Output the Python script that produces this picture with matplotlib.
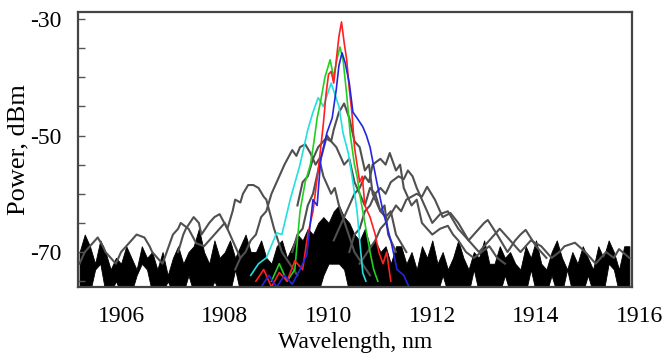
import numpy as np
import matplotlib.pyplot as plt
import matplotlib.transforms as mtransforms

plt.rcParams['font.family'] = 'Liberation Serif'
plt.rcParams['axes.unicode_minus'] = False

# colored laser lines (wavelength nm, power dBm)
red_wl = [1908.6, 1908.75, 1908.9, 1909.05, 1909.2, 1909.35, 1909.5, 1909.6, 1909.7, 1909.8,
          1909.9, 1909.95, 1910.0, 1910.05, 1910.1, 1910.15, 1910.2, 1910.25, 1910.3, 1910.35,
          1910.4, 1910.45, 1910.5, 1910.6, 1910.65, 1910.7, 1910.8, 1910.9, 1910.97, 1911.05,
          1911.12, 1911.2]
red_db = [-75, -73, -76, -73.5, -75, -71.5, -73, -67, -63, -56,
          -48, -43, -39.5, -39, -41, -37, -33, -30.5, -34, -37,
          -42, -46, -52, -58, -57, -62, -64, -67, -70, -72,
          -70, -75]

green_wl = [1908.9, 1909.05, 1909.2, 1909.35, 1909.45, 1909.55, 1909.65, 1909.72, 1909.78, 1909.85,
            1909.93, 1910.03, 1910.1, 1910.16, 1910.22, 1910.28, 1910.35, 1910.42, 1910.5, 1910.55,
            1910.6, 1910.7, 1910.8, 1910.87, 1910.95]
green_db = [-75, -72, -75, -73, -63, -58, -55, -51, -47, -44,
            -40, -37, -40, -37, -34.8, -37, -43, -50, -55, -57,
            -60, -65, -70, -73, -75]

blue_wl = [1908.7, 1908.85, 1909.0, 1909.15, 1909.3, 1909.45, 1909.58, 1909.7, 1909.78, 1909.85,
           1909.97, 1910.07, 1910.15, 1910.2, 1910.26, 1910.32, 1910.4, 1910.47, 1910.55, 1910.66,
           1910.73, 1910.8, 1910.93, 1911.05, 1911.2, 1911.32, 1911.45, 1911.55]
blue_db = [-76, -74, -76, -74, -75.5, -73, -70.5, -61, -62, -54,
           -49.5, -47, -42, -38, -35.8, -37.5, -41, -46, -47, -48.5,
           -50, -52, -58, -63, -68, -73, -74, -76]

cyan_wl = [1908.5, 1908.65, 1908.8, 1909.0, 1909.1, 1909.26, 1909.45, 1909.6, 1909.7, 1909.8,
           1909.9, 1910.05, 1910.2, 1910.28, 1910.38, 1910.47, 1910.55, 1910.6, 1910.66, 1910.72]
cyan_db = [-74, -72, -71, -66.7, -67, -61, -55, -49, -46, -43.5,
           -45, -41, -45, -49.6, -53, -58, -63, -68, -73.6, -75]

# black / grey traces
blk1_wl = [1905.2, 1905.3, 1905.4, 1905.55, 1905.65, 1905.7, 1905.9, 1906.0, 1906.1, 1906.2,
           1906.3, 1906.45, 1906.55, 1906.6, 1906.8, 1907.0, 1907.1, 1907.15, 1907.3, 1907.45,
           1907.6, 1907.7, 1907.8, 1908.0, 1908.15, 1908.3]
blk1_db = [-72, -70, -69, -67.5, -69, -70, -72, -70, -69, -68,
           -67, -67.5, -69, -70, -72, -67, -66, -65, -66, -68.5,
           -69, -68, -67, -65, -68, -71]

blk2_wl = [1907.1, 1907.2, 1907.25, 1907.4, 1907.5, 1907.55, 1907.7, 1907.8, 1907.9, 1908.05,
           1908.15, 1908.2, 1908.3, 1908.35, 1908.45, 1908.55, 1908.65, 1908.75, 1908.8, 1908.95,
           1909.1, 1909.25, 1909.4]
blk2_db = [-70, -67, -66, -64, -65, -67, -65, -64, -63.5, -66,
           -63, -61, -61.5, -60, -58.5, -58.5, -59, -60.5, -61, -66,
           -70, -72, -74]

blk3_wl = [1908.2, 1908.3, 1908.4, 1908.5, 1908.6, 1908.7, 1908.8, 1908.9, 1909.0, 1909.15,
           1909.3, 1909.38, 1909.45, 1909.55, 1909.65, 1909.75, 1909.82, 1909.9, 1910.05, 1910.12,
           1910.2, 1910.35, 1910.5, 1910.65, 1910.8]
blk3_db = [-73, -71, -70, -68, -67, -64, -63, -60, -58, -55,
           -52.5, -53.5, -52, -51.5, -53, -55, -54, -57, -60, -59,
           -62, -66, -70, -72, -74]

blk4_wl = [1909.3, 1909.4, 1909.5, 1909.6, 1909.7, 1909.85, 1909.97, 1910.05, 1910.1, 1910.2,
           1910.3, 1910.4, 1910.5, 1910.6, 1910.7, 1910.78, 1910.85, 1911.0, 1911.08, 1911.15,
           1911.3]
blk4_db = [-70, -67, -66, -62, -60, -54, -50, -51, -49, -46,
           -44.5, -47, -51, -52, -56, -55, -60, -63, -62, -67,
           -70]

blk5_wl = [1909.4, 1909.5, 1909.6, 1909.7, 1909.8, 1909.95, 1910.05, 1910.15, 1910.3, 1910.4,
           1910.5, 1910.6, 1910.7, 1910.8, 1910.9, 1911.0, 1911.1, 1911.2, 1911.3, 1911.5]
blk5_db = [-62, -58, -57, -54, -52, -50.5, -51, -52, -55, -54,
           -58, -60, -62, -59, -60, -63, -64, -63, -67, -70]

blk6_wl = [1910.1, 1910.2, 1910.3, 1910.4, 1910.5, 1910.6, 1910.7, 1910.78, 1910.85, 1911.0,
           1911.1, 1911.18, 1911.3, 1911.38, 1911.45, 1911.6, 1911.7, 1911.8, 1912.0, 1912.15,
           1912.3, 1912.4, 1912.5, 1912.65, 1912.8, 1912.95, 1913.1, 1913.25, 1913.4]
blk6_db = [-68, -66, -64, -62, -60, -59, -57, -58, -55, -54,
           -55, -53, -56, -55, -59, -62, -61, -65, -67, -66,
           -65.5, -67, -68, -70, -71, -70, -69, -71, -72]

blk7_wl = [1910.4, 1910.5, 1910.6, 1910.7, 1910.8, 1910.9, 1911.0, 1911.1, 1911.2, 1911.35,
           1911.45, 1911.53, 1911.62, 1911.7, 1911.85, 1912.0, 1912.15, 1912.3, 1912.4, 1912.5,
           1912.6, 1912.7, 1912.9, 1913.0, 1913.07, 1913.25, 1913.45, 1913.6, 1913.7, 1913.8,
           1914.0, 1914.2]
blk7_db = [-70, -67, -66, -63, -62, -60, -59, -60, -58, -57,
           -57.5, -56, -57, -59, -62, -65, -63.5, -63, -64.5, -66,
           -67, -68, -66, -65, -64.5, -67, -70, -68, -67, -66.2,
           -69, -71]

blk8_wl = [1910.6, 1910.9, 1911.0, 1911.1, 1911.3, 1911.4, 1911.5, 1911.7, 1911.8, 1911.9,
           1912.05, 1912.2, 1912.35, 1912.5, 1912.7, 1912.9, 1913.1, 1913.3, 1913.5, 1913.7,
           1913.9, 1914.1, 1914.3, 1914.45, 1914.55, 1914.75, 1914.95, 1915.15, 1915.35, 1915.5,
           1915.6, 1915.8]
blk8_db = [-72, -68, -66, -65, -62, -63, -61, -60, -60.5, -58.8,
           -61, -64, -63.3, -65, -68, -70, -68, -66, -68, -70,
           -68, -69, -71, -70, -69, -68.4, -70, -72, -70, -71,
           -69.5, -71]

# noise floor: top and bottom of the black mass, every 0.1 nm from 1905.2 nm
floor_hi = [-70, -67, -69, -72, -68, -70, -73, -71, -72, -69,
            -71, -73, -69, -71, -70, -73, -70, -74, -71, -69,
            -72, -70, -69, -66, -70, -72, -68, -71, -70, -68,
            -71, -69, -67, -70, -70, -68, -71, -72, -69, -68,
            -71, -69, -67, -68, -66, -67, -65, -64, -65, -63,
            -62, -64, -65, -67, -68, -66, -69, -68, -70, -69,
            -72, -69, -69, -72, -70, -73, -69, -71, -68, -72,
            -70, -73, -71, -68, -71, -73, -70, -71, -68, -72,
            -72, -69, -71, -70, -72, -73, -69, -71, -68, -72,
            -73, -70, -68, -71, -73, -70, -72, -69, -71, -73,
            -69, -71, -68, -70, -73, -69, -69]
floor_lo = [-77, -77, -77, -73, -72, -77, -77, -75, -77, -77,
            -77, -74, -72, -73, -77, -77, -77, -75, -77, -77,
            -77, -74, -77, -77, -77, -77, -75, -77, -77, -77,
            -73, -77, -77, -77, -77, -77, -77, -77, -77, -77,
            -77, -77, -77, -77, -77, -77, -77, -74, -72, -72,
            -72, -73, -77, -77, -77, -77, -77, -77, -77, -77,
            -77, -77, -77, -77, -77, -77, -77, -77, -77, -77,
            -74, -77, -77, -77, -77, -77, -73, -77, -77, -77,
            -77, -77, -74, -77, -77, -77, -77, -73, -77, -77,
            -77, -74, -77, -77, -73, -77, -77, -77, -74, -77,
            -77, -77, -72, -73, -77, -77, -77]
floor_wl = 1905.2 + 0.1 * np.arange(len(floor_hi))

fig = plt.figure(figsize=(6.66, 3.58), dpi=100)
ax = fig.add_axes([78 / 666, 71 / 358, 554 / 666, 275 / 358])

grey_traces = [(blk1_wl, blk1_db), (blk2_wl, blk2_db), (blk3_wl, blk3_db), (blk4_wl, blk4_db),
               (blk5_wl, blk5_db), (blk6_wl, blk6_db), (blk7_wl, blk7_db), (blk8_wl, blk8_db)]
for wl, db in grey_traces:
    ax.plot(wl, db, color='#505050', lw=1.5)

ax.fill_between(floor_wl, floor_lo, floor_hi, color='black', lw=0.6, edgecolor='black')

ax.plot(cyan_wl, cyan_db, color='#20e0e0', lw=1.2)
ax.plot(green_wl, green_db, color='#20d020', lw=1.2)
ax.plot(red_wl, red_db, color='#ff2020', lw=1.2)
ax.plot(blue_wl, blue_db, color='#2525e0', lw=1.2)

ax.set_xlim(1905.17, 1915.85)
ax.set_ylim(-76.0, -28.8)

ax.set_xticks([1906, 1908, 1910, 1912, 1914])
ax.set_yticks([-30, -50, -70])
ax.set_yticks(np.arange(-75, -29, 5), minor=True)
ax.tick_params(axis='x', length=0, pad=14, labelsize=17)
ax.tick_params(axis='y', which='both', direction='in', length=5, width=1,
               color='#555555', labelsize=17, pad=12)

# the 1916 label sits just past the right edge of the frame
lbl_tr = mtransforms.offset_copy(ax.get_xaxis_transform(), fig=fig, y=-14, units='points')
ax.text(1916, 0, '1916', transform=lbl_tr, ha='center', va='top', fontsize=17, clip_on=False)

ax.set_xlabel('Wavelength, nm', fontsize=17, labelpad=3)
ax.set_ylabel('Power, dBm', fontsize=19, va='center')
ax.yaxis.set_label_coords(-0.108, 0.5)

for s in ax.spines.values():
    s.set_color('#444444')
    s.set_linewidth(1.6)

fig.savefig('out.png', dpi=100)
